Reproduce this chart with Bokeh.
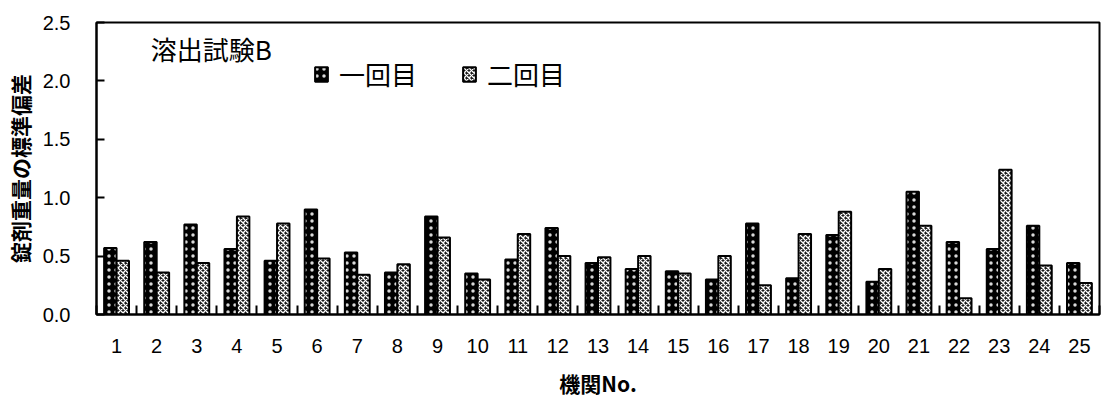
from bokeh.plotting import figure
from bokeh.models import (FixedTicker, PrintfTickFormatter, Legend, LegendItem,
                          Label, ColumnDataSource, Range1d)
from bokeh.transform import dodge
from bokeh.embed import file_html
from bokeh.resources import INLINE

# Standard deviation of tablet weight per institution (dissolution test B)
institutions = list(range(1, 26))
first_round = [0.57, 0.62, 0.77, 0.56, 0.46, 0.90, 0.53, 0.36, 0.84, 0.35,
               0.47, 0.74, 0.44, 0.39, 0.37, 0.30, 0.78, 0.31, 0.68, 0.28,
               1.05, 0.62, 0.56, 0.76, 0.44]
second_round = [0.46, 0.36, 0.44, 0.84, 0.78, 0.48, 0.34, 0.43, 0.66, 0.30,
                0.69, 0.50, 0.49, 0.50, 0.35, 0.50, 0.25, 0.69, 0.88, 0.39,
                0.76, 0.14, 1.24, 0.42, 0.27]
y_ticks = [0.0, 0.5, 1.0, 1.5, 2.0, 2.5]
series_names = ["一回目", "二回目"]
chart_title = "溶出試験B"

src = ColumnDataSource(dict(x=institutions, a=first_round, b=second_round))

p = figure(width=1101, height=400, output_backend="svg", toolbar_location=None,
           x_range=Range1d(0.5, 25.5), y_range=Range1d(0, 2.5),
           min_border_left=96, min_border_right=2, min_border_top=22,
           min_border_bottom=80)
p.background_fill_color = "white"
p.border_fill_color = "white"
p.grid.visible = False
p.outline_line_color = "black"
p.outline_line_width = 2

bw = 0.31
r1 = p.vbar(x=dodge("x", -0.155, range=p.x_range), top="a", width=bw, source=src,
            fill_color="black", line_color="black", line_width=2,
            hatch_pattern="dot", hatch_color="white", hatch_scale=7,
            hatch_weight=0.6, hatch_alpha=0.85)
r2 = p.vbar(x=dodge("x", 0.155, range=p.x_range), top="b", width=bw, source=src,
            fill_color="#1a1a1a", line_color="black", line_width=2,
            hatch_pattern="diagonal_cross", hatch_color="white", hatch_scale=5,
            hatch_weight=1.3)

num_font = "Liberation Sans"
cjk_font = "Noto Sans CJK JP"

# x axis: labels at institution centres, tick marks between groups
xa = p.xaxis[0]
xa.ticker = FixedTicker(ticks=institutions,
                        minor_ticks=[i + 0.5 for i in range(0, 26)])
xa.major_tick_line_color = None
xa.minor_tick_in = 9
xa.minor_tick_out = 0
xa.minor_tick_line_color = "black"
xa.minor_tick_line_width = 2
xa.axis_line_width = 2
xa.major_label_standoff = 18
xa.major_label_text_font = num_font
xa.major_label_text_font_size = "20px"
xa.major_label_text_color = "black"
xa.axis_label = "機関No."
xa.axis_label_text_font = cjk_font
xa.axis_label_text_font_style = "bold"
xa.axis_label_text_font_size = "21px"
xa.axis_label_text_color = "black"
xa.axis_label_standoff = 12

ya = p.yaxis[0]
ya.ticker = FixedTicker(ticks=y_ticks, minor_ticks=[])
ya.formatter = PrintfTickFormatter(format="%.1f")
ya.major_tick_in = 8
ya.major_tick_out = 0
ya.major_tick_line_width = 2
ya.axis_line_width = 2
ya.major_label_standoff = 26
ya.major_label_text_font = num_font
ya.major_label_text_font_size = "20px"
ya.major_label_text_color = "black"
ya.axis_label = "錠剤重量の標準偏差"
ya.axis_label_text_font = cjk_font
ya.axis_label_text_font_style = "bold"
ya.axis_label_text_font_size = "21px"
ya.axis_label_text_color = "black"
ya.axis_label_standoff = 5

p.add_layout(Label(x=1.85, y=2.44, text=chart_title, text_font=cjk_font,
                   text_font_size="26px", text_baseline="top", text_color="black"))

legend = Legend(items=[LegendItem(label=series_names[0], renderers=[r1]),
                       LegendItem(label=series_names[1], renderers=[r2])],
                orientation="horizontal", location=(217, 222),
                glyph_width=16, glyph_height=18, label_standoff=10, spacing=44,
                padding=0, margin=0, border_line_color=None,
                background_fill_alpha=0, label_text_font=cjk_font,
                label_text_font_size="26px", label_text_color="black")
p.add_layout(legend, "center")

open("out.html", "w").write(file_html(p, INLINE))
